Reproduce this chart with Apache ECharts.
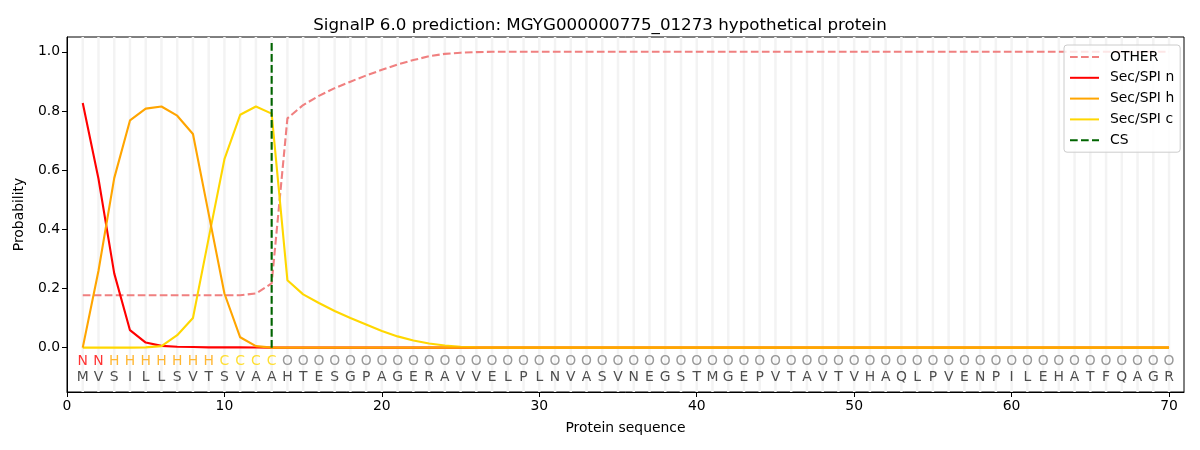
<!DOCTYPE html>
<html>
<head>
<meta charset="utf-8">
<script src="https://cdn.jsdelivr.net/npm/echarts@6/dist/echarts.min.js"></script>
<style>
html,body{margin:0;padding:0;background:#fff;}
#chart{width:1200px;height:450px;}
</style>
</head>
<body>
<div id="chart"></div>
<script>
const titleText = "SignalP 6.0 prediction: MGYG000000775_01273 hypothetical protein";
const sequence = "MVSILLSVTSVAAHTESGPAGERAVVELPLNVASVNEGSTMGEPVTAVTVHAQLPVENPILEHATFQAGR".split("");
const regionLabels = ["N","N","H","H","H","H","H","H","H","C","C","C","C"].concat(new Array(57).fill("O"));
const xTicks = [0,10,20,30,40,50,60,70];
const yTicks = [0,0.2,0.4,0.6,0.8,1.0];
const csPosition = 13;

const otherVals = [0.177,0.177,0.177,0.177,0.177,0.177,0.177,0.177,0.177,0.177,0.177,0.183,0.217,0.775,0.82,0.851,0.877,0.899,0.92,0.939,0.957,0.972,0.985,0.993,0.997,0.999,
  1,1,1,1,1,1,1,1,1,1,1,1,1,1,1,1,1,1,1,1,1,1,1,1,1,1,1,1,1,1,1,1,1,1,1,1,1,1,1,1,1,1,1,1];
const secN = [0.827,0.571,0.251,0.059,0.017,0.006,0.003,0.002,0.001,0.001,0.001,0.0005,0,
  0,0,0,0,0,0,0,0,0,0,0,0,0,0,0,0,0,0,0,0,0,0,0,0,0,0,0,0,0,0,0,0,0,0,0,0,0,0,0,0,0,0,0,0,0,0,0,0,0,0,0,0,0,0,0,0,0];
const secH = [0,0.26,0.573,0.768,0.808,0.815,0.784,0.722,0.452,0.183,0.035,0.005,0,
  0,0,0,0,0,0,0,0,0,0,0,0,0,0,0,0,0,0,0,0,0,0,0,0,0,0,0,0,0,0,0,0,0,0,0,0,0,0,0,0,0,0,0,0,0,0,0,0,0,0,0,0,0,0,0,0,0];
const secC = [0,0,0,0,0.001,0.005,0.042,0.100,0.37,0.637,0.787,0.815,0.791,0.228,0.18,0.151,0.124,0.100,0.078,0.056,0.038,0.024,0.014,0.007,0.003,0.001,
  0,0,0,0,0,0,0,0,0,0,0,0,0,0,0,0,0,0,0,0,0,0,0,0,0,0,0,0,0,0,0,0,0,0,0,0,0,0,0,0,0,0,0,0];

const labelColors = {N:"#ff0000", H:"#ffa500", C:"#ffd700", O:"#808080"};
const FONT = "DejaVu Sans";
const pos = sequence.map((_, i) => i + 1);
const toXY = arr => arr.map((v, i) => [i + 1, v]);
const dash = [7.7, 3.3];
const Y_MIN = -0.15, Y_MAX = 1.05;

const chart = echarts.init(document.getElementById("chart"), null, {renderer: "canvas"});
const option = {
  animation: false,
  backgroundColor: "#fff",
  textStyle: {fontFamily: FONT},
  title: {
    text: titleText, left: "center", top: 12,
    textStyle: {fontFamily: FONT, fontSize: 16.7, fontWeight: "normal", color: "#000"}
  },
  grid: {left: 67, right: 16, top: 37, bottom: 58, show: true, borderColor: "#000", borderWidth: 1, backgroundColor: "transparent"},
  legend: {
    orient: "vertical", left: 1064, top: 45, z: 20,
    padding: [5, 6, 5, 5], itemGap: 6.8, itemWidth: 29, itemHeight: 14,
    backgroundColor: "rgba(255,255,255,0.8)", borderColor: "#cccccc", borderWidth: 1, borderRadius: 3,
    itemStyle: {opacity: 0},
    textStyle: {fontFamily: FONT, fontSize: 13.9, color: "#000", padding: [0,0,0,6]},
    data: ["OTHER", "Sec/SPI n", "Sec/SPI h", "Sec/SPI c", "CS"]
  },
  xAxis: {
    type: "value", min: 0, max: 70.95,
    name: "Protein sequence", nameLocation: "middle", nameGap: 29,
    nameTextStyle: {fontFamily: FONT, fontSize: 13.9, color: "#000"},
    axisLine: {show: true, onZero: false, lineStyle: {color: "#000", width: 1}},
    axisTick: {show: true, inside: false, length: 5, customValues: xTicks, lineStyle: {color: "#000"}},
    axisLabel: {show: true, customValues: xTicks, fontFamily: FONT, fontSize: 13.9, color: "#000", margin: 7},
    splitLine: {show: false}
  },
  yAxis: {
    type: "value", min: Y_MIN, max: Y_MAX,
    name: "Probability", nameLocation: "middle", nameGap: 41, nameRotate: 90,
    nameTextStyle: {fontFamily: FONT, fontSize: 13.9, color: "#000"},
    axisLine: {show: true, onZero: false, lineStyle: {color: "#000", width: 1}},
    axisTick: {show: true, inside: false, length: 5, customValues: yTicks, lineStyle: {color: "#000"}},
    axisLabel: {show: true, customValues: yTicks, fontFamily: FONT, fontSize: 13.9, color: "#000", margin: 7,
      formatter: v => v.toFixed(1)},
    splitLine: {show: false}
  },
  series: [
    {
      name: "_grid", type: "custom", silent: true, z: 1,
      data: pos.map(p => [p]),
      renderItem: (params, api) => {
        const x = api.value(0);
        const p1 = api.coord([x, Y_MAX]);
        const p2 = api.coord([x, Y_MIN]);
        return {type: "line", shape: {x1: p1[0], y1: p1[1], x2: p2[0], y2: p2[1]},
          style: {stroke: "#f3f3f3", lineWidth: 2.5}};
      }
    },
    {
      name: "OTHER", type: "line", data: toXY(otherVals), showSymbol: false, symbol: "none", z: 3,
      color: "#f08080", lineStyle: {color: "#f08080", width: 2.1, type: dash}
    },
    {
      name: "Sec/SPI n", type: "line", data: toXY(secN), showSymbol: false, symbol: "none", z: 4,
      color: "#ff0000", lineStyle: {color: "#ff0000", width: 2.1}
    },
    {
      name: "Sec/SPI c", type: "line", data: toXY(secC), showSymbol: false, symbol: "none", z: 5,
      color: "#ffd700", lineStyle: {color: "#ffd700", width: 2.1}
    },
    {
      name: "Sec/SPI h", type: "line", data: toXY(secH), showSymbol: false, symbol: "none", z: 6,
      color: "#ffa500", lineStyle: {color: "#ffa500", width: 2.1}
    },
    {
      name: "CS", type: "line", data: [[csPosition, 0], [csPosition, 1.035]], showSymbol: false, symbol: "none", z: 7,
      color: "#006400", lineStyle: {color: "#006400", width: 2.1, type: dash}
    },
    {
      name: "_regions", type: "scatter", symbol: "circle", symbolSize: 0.1, silent: true, z: 8,
      itemStyle: {color: "transparent"},
      data: regionLabels.map((r, i) => ({
        value: [i + 1, -0.047, r],
        label: {color: labelColors[r]}
      })),
      label: {show: true, position: "inside", formatter: p => p.value[2], fontFamily: FONT, fontSize: 13.9, align: "center", verticalAlign: "middle"}
    },
    {
      name: "_seq", type: "scatter", symbol: "circle", symbolSize: 0.1, silent: true, z: 8,
      itemStyle: {color: "transparent"},
      data: sequence.map((a, i) => [i + 1, -0.1, a]),
      label: {show: true, position: "inside", formatter: p => p.value[2], fontFamily: FONT, fontSize: 13.9, color: "#222", align: "center", verticalAlign: "middle"}
    }
  ]
};
chart.setOption(option);
</script>
</body>
</html>
